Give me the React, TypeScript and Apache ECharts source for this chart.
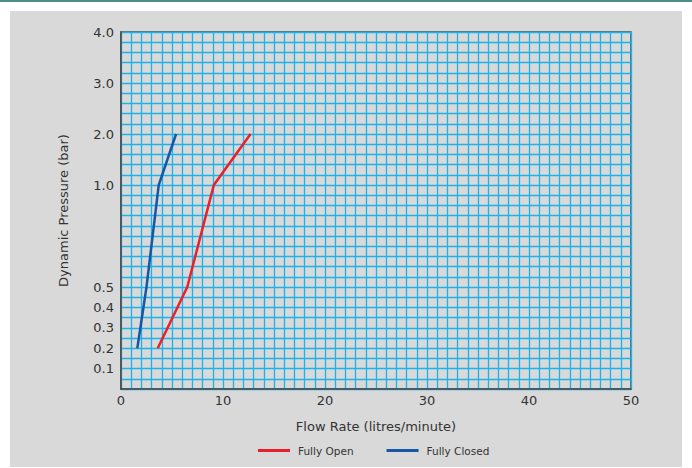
import React, { useEffect, useRef } from "react";
import * as echarts from "echarts";

// Pressure tick labels (bar) and the grid row (from the bottom) at which each sits
const pressureTicks = [0, 0.1, 0.2, 0.3, 0.4, 0.5, 1.0, 2.0, 3.0, 4.0];
const tickRows = [0, 2, 4, 6, 8, 10, 20, 25, 30, 35];
const pressureLabels = ["", "0.1", "0.2", "0.3", "0.4", "0.5", "1.0", "2.0", "3.0", "4.0"];

// Series (pressure in bar, flow in litres/minute)
const pressures = [0.2, 0.5, 1.0, 2.0];
const fullyOpenFlow = [3.6, 6.5, 9.1, 12.7];
const fullyClosedFlow = [1.6, 2.5, 3.7, 5.4];

function pressureToRow(p: number): number {
  for (let i = 0; i < pressureTicks.length - 1; i++) {
    const a = pressureTicks[i], b = pressureTicks[i + 1];
    if (p >= a && p <= b) {
      return tickRows[i] + ((p - a) / (b - a)) * (tickRows[i + 1] - tickRows[i]);
    }
  }
  return tickRows[tickRows.length - 1];
}

const FONT = "DejaVu Sans";

export default function App() {
  const ref = useRef<HTMLDivElement>(null);
  useEffect(() => {
    if (!ref.current) return;
    const chart = echarts.init(ref.current, null, { renderer: "svg" });
    const rowLabel = (v: number) => {
      const r = Math.round(v);
      const i = tickRows.indexOf(r);
      return i >= 0 && Math.abs(v - r) < 1e-6 ? pressureLabels[i] : "";
    };
    chart.setOption({
      animation: false,
      backgroundColor: "#ffffff",
      graphic: [
        { type: "rect", shape: { x: 0, y: 0, width: 692, height: 2 }, style: { fill: "#4f8b89" }, z: -10 },
        { type: "rect", shape: { x: 10, y: 11, width: 672, height: 456 }, style: { fill: "#d9d9d9" }, z: -10 },
      ],
      grid: {
        left: 121,
        top: 32,
        width: 510,
        height: 357,
        show: true,
        backgroundColor: "#d9d9d9",
        borderColor: "#4a4a4a",
        borderWidth: 1.5,
      },
      legend: {
        top: 440,
        left: 253,
        icon: "rect",
        itemWidth: 32,
        itemHeight: 3,
        itemGap: 33,
        textStyle: { fontFamily: FONT, fontSize: 10.5, color: "#333", padding: [0, 0, 0, 3] },
        data: ["Fully Open", "Fully Closed"],
      },
      xAxis: {
        type: "value",
        min: 0,
        max: 50,
        interval: 1,
        name: "Flow Rate (litres/minute)",
        nameLocation: "middle",
        nameGap: 31,
        nameTextStyle: { fontFamily: FONT, fontSize: 13, color: "#333" },
        axisLine: { show: true, lineStyle: { color: "#4a4a4a", width: 1.5 } },
        axisTick: { show: false },
        axisLabel: {
          margin: 5,
          fontFamily: FONT,
          fontSize: 13,
          color: "#333",
          formatter: (v: number) => (v % 10 === 0 ? String(v) : ""),
        },
        splitLine: { show: true, lineStyle: { color: "#1cb2ea", width: 1.3 } },
      },
      yAxis: {
        type: "value",
        min: 0,
        max: 35,
        interval: 1,
        name: "Dynamic Pressure (bar)",
        nameLocation: "middle",
        nameGap: 51,
        nameTextStyle: { fontFamily: FONT, fontSize: 13, color: "#333" },
        axisLine: { show: true, lineStyle: { color: "#4a4a4a", width: 1.5 } },
        axisTick: { show: false },
        axisLabel: {
          margin: 7,
          fontFamily: FONT,
          fontSize: 13,
          color: "#333",
          padding: [3, 0, 0, 0],
          formatter: rowLabel,
        },
        splitLine: { show: true, lineStyle: { color: "#1cb2ea", width: 1.3 } },
      },
      series: [
        {
          name: "Fully Open",
          type: "line",
          symbol: "none",
          color: "#e8202a",
          lineStyle: { width: 2.5, color: "#e8202a" },
          data: pressures.map((p, i) => [fullyOpenFlow[i], pressureToRow(p)]),
        },
        {
          name: "Fully Closed",
          type: "line",
          symbol: "none",
          color: "#1656a5",
          lineStyle: { width: 2.5, color: "#1656a5" },
          data: pressures.map((p, i) => [fullyClosedFlow[i], pressureToRow(p)]),
        },
      ],
    });
    return () => chart.dispose();
  }, []);
  return (
    <div
      ref={ref}
      style={{ position: "fixed", left: 0, top: 0, width: 692, height: 468 }}
    />
  );
}
